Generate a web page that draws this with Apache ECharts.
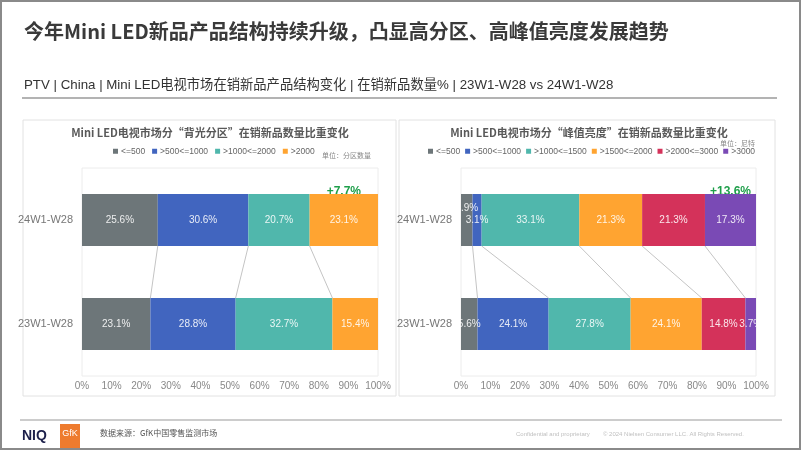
<!DOCTYPE html>
<html><head><meta charset="utf-8">
<script src="https://cdn.jsdelivr.net/npm/echarts@6/dist/echarts.min.js"></script>
<style>html,body{margin:0;padding:0;background:#fff}#c{width:802px;height:451px}</style>
</head><body><div id="c"></div>
<script>
// ---- data ----
const categories = ['23W1-W28', '24W1-W28'];
const xTicks = [0, 100, 10]; // min, max, interval (percent)
const leftNames = ['<=500', '>500<=1000', '>1000<=2000', '>2000'];
const left23 = [23.1, 28.8, 32.7, 15.4];
const left24 = [25.6, 30.6, 20.7, 23.1];
const leftDelta = '+7.7%';
const rightNames = ['<=500', '>500<=1000', '>1000<=1500', '>1500<=2000', '>2000<=3000', '>3000'];
const right23 = [5.6, 24.1, 27.8, 24.1, 14.8, 3.7];
const right24 = [3.9, 3.1, 33.1, 21.3, 21.3, 17.3];
const rightDelta = '+13.6%';

// ---- styles ----
const colorMap = {
  '<=500': '#6D7679', '>500<=1000': '#4165BF', '>1000<=2000': '#50B7AC', '>2000': '#FFA431',
  '>1000<=1500': '#50B7AC', '>1500<=2000': '#FFA431', '>2000<=3000': '#D4325A', '>3000': '#7A4AB5'
};
const FONT = 'Liberation Sans, Arial, Noto Sans CJK SC, sans-serif';
const CJK = 'Noto Sans CJK SC, sans-serif';

function cum(arr) { const out = []; let s = 0; for (const v of arr) { s += v; out.push(+s.toFixed(2)); } return out; }

function barSeries(names, v23, v24, gi, stack, offsets) {
  return names.map((n, i) => ({
    type: 'bar', name: n, stack: stack, xAxisIndex: gi, yAxisIndex: gi,
    barWidth: '50%',
    itemStyle: { color: colorMap[n] },
    label: { show: true, position: 'inside', color: 'rgba(255,255,255,0.88)', fontSize: 10, fontFamily: FONT,
      formatter: p => p.value.toFixed(1) + '%' },
    emphasis: { disabled: true },
    data: [
      { value: v23[i] },
      { value: v24[i], label: offsets && offsets[i] ? { offset: offsets[i] } : undefined }
    ]
  }));
}

function connectorSeries(v23, v24, gi) {
  const c23 = cum(v23), c24 = cum(v24);
  const data = [];
  for (let i = 0; i < c23.length - 1; i++) data.push([c24[i], c23[i], 0]);
  return {
    type: 'custom', xAxisIndex: gi, yAxisIndex: gi, silent: true,
    encode: { x: [0, 1], y: 2 },
    renderItem: (params, api) => {
      const top = api.coord([api.value(0), 1]);
      const bot = api.coord([api.value(1), 0]);
      const half = api.size([0, 1])[1] * 0.25;
      return { type: 'line', shape: { x1: top[0], y1: top[1] + half, x2: bot[0], y2: bot[1] - half },
        style: { stroke: '#c4c4c4', lineWidth: 1 } };
    },
    data: data
  };
}

function deltaSeries(v24, text, gi) {
  const c24 = cum(v24);
  const start = c24[c24.length - 2];
  return {
    type: 'custom', xAxisIndex: gi, yAxisIndex: gi, silent: true,
    encode: { x: [0, 1], y: 2 },
    renderItem: (params, api) => {
      const a = api.coord([api.value(0), 1]);
      const b = api.coord([api.value(1), 1]);
      const half = api.size([0, 1])[1] * 0.25;
      return { type: 'text', style: { text: text, x: (a[0] + b[0]) / 2, y: a[1] - half + 4,
        textAlign: 'center', textVerticalAlign: 'bottom', fill: '#1E9F4A', font: 'bold 12px ' + FONT } };
    },
    data: [[start, 100, 0]]
  };
}

function xAxis(gi) {
  return { type: 'value', gridIndex: gi, min: xTicks[0], max: xTicks[1], interval: xTicks[2],
    axisLine: { show: false }, axisTick: { show: false }, splitLine: { show: false },
    axisLabel: { formatter: '{value}%', color: '#888', fontSize: 10, fontFamily: FONT, margin: 5 } };
}
function yAxis(gi) {
  return { type: 'category', gridIndex: gi, data: categories,
    axisLine: { show: false }, axisTick: { show: false },
    axisLabel: { color: '#777', fontSize: 11, fontFamily: FONT, margin: 9 } };
}

const legendBase = { itemWidth: 5, itemHeight: 5, itemGap: 7, icon: 'rect', padding: 0, width: 380,
  textStyle: { color: '#666', fontSize: 8.5, fontFamily: FONT, padding: [0, 0, 0, -2] }, selectedMode: false };

const chart = echarts.init(document.getElementById('c'));
const option = {
  animation: false,
  grid: [
    { left: 82, top: 168, width: 296, height: 208, show: true, borderColor: '#ececec', borderWidth: 1 },
    { left: 461, top: 168, width: 295, height: 208, show: true, borderColor: '#ececec', borderWidth: 1 }
  ],
  xAxis: [xAxis(0), xAxis(1)],
  yAxis: [yAxis(0), yAxis(1)],
  legend: [
    Object.assign({}, legendBase, { data: leftNames, left: 113, top: 147 }),
    Object.assign({}, legendBase, { data: rightNames, left: 428, top: 147, itemGap: 5 })
  ],
  series: [].concat(
    barSeries(leftNames, left23, left24, 0, 'L'),
    barSeries(rightNames, right23, right24, 1, 'R', [[0, -12], null, null, null, null, null]),
    [connectorSeries(left23, left24, 0), connectorSeries(right23, right24, 1),
     deltaSeries(left24, leftDelta, 0), deltaSeries(right24, rightDelta, 1)]
  ),
  graphic: [
    { type: 'rect', shape: { x: 1, y: 1, width: 799, height: 448 }, style: { fill: 'none', stroke: '#8a8a8a', lineWidth: 2 }, z: 100 },
    { type: 'text', style: { text: '今年Mini LED新品产品结构持续升级，凸显高分区、高峰值亮度发展趋势', x: 24, y: 31,
      textVerticalAlign: 'middle', fill: '#3a3a3a', font: 'bold 20px ' + CJK } },
    { type: 'text', style: { text: 'PTV | China | Mini LED电视市场在销新品产品结构变化 | 在销新品数量% | 23W1-W28 vs 24W1-W28',
      x: 24, y: 85, textVerticalAlign: 'middle', fill: '#333', font: '13.3px ' + FONT } },
    { type: 'line', shape: { x1: 22, y1: 98, x2: 777, y2: 98 }, style: { stroke: '#9a9a9a', lineWidth: 1.5 } },
    { type: 'rect', shape: { x: 23, y: 120, width: 373, height: 276 }, style: { fill: 'none', stroke: '#e2e2e2', lineWidth: 1 } },
    { type: 'rect', shape: { x: 399, y: 120, width: 376, height: 276 }, style: { fill: 'none', stroke: '#e2e2e2', lineWidth: 1 } },
    { type: 'text', style: { text: 'Mini LED电视市场分“背光分区”在销新品数量比重变化', x: 210, y: 133,
      textAlign: 'center', textVerticalAlign: 'middle', fill: '#595959', font: 'bold 11px ' + CJK } },
    { type: 'text', style: { text: 'Mini LED电视市场分“峰值亮度”在销新品数量比重变化', x: 589, y: 133,
      textAlign: 'center', textVerticalAlign: 'middle', fill: '#595959', font: 'bold 11px ' + CJK } },
    { type: 'text', style: { text: '单位：分区数量', x: 322, y: 155, textVerticalAlign: 'middle', fill: '#888', font: '7px ' + CJK } },
    { type: 'text', style: { text: '单位：尼特', x: 755, y: 143, textAlign: 'right', textVerticalAlign: 'middle', fill: '#888', font: '7px ' + CJK } },
    { type: 'line', shape: { x1: 20, y1: 420, x2: 782, y2: 420 }, style: { stroke: '#9a9a9a', lineWidth: 1.2 } },
    { type: 'text', style: { text: 'NIQ', x: 22, y: 436, textVerticalAlign: 'middle', fill: '#1c1f4a', font: 'bold 14px ' + FONT } },
    { type: 'rect', shape: { x: 60, y: 424, width: 20, height: 24 }, style: { fill: '#EE7B2E' } },
    { type: 'text', style: { text: 'GfK', x: 70, y: 434, textAlign: 'center', textVerticalAlign: 'middle', fill: '#fff', font: '9px ' + FONT } },
    { type: 'text', style: { text: '数据来源：GfK中国零售监测市场', x: 100, y: 433, textVerticalAlign: 'middle', fill: '#555', font: '8px ' + CJK } },
    { type: 'text', style: { text: 'Confidential and proprietary', x: 516, y: 434, textVerticalAlign: 'middle', fill: '#c0c0c0', font: '6px ' + FONT } },
    { type: 'text', style: { text: '© 2024 Nielsen Consumer LLC. All Rights Reserved.', x: 603, y: 434, textVerticalAlign: 'middle', fill: '#c0c0c0', font: '6px ' + FONT } }
  ]
};
chart.setOption(option);
</script>
</body></html>
